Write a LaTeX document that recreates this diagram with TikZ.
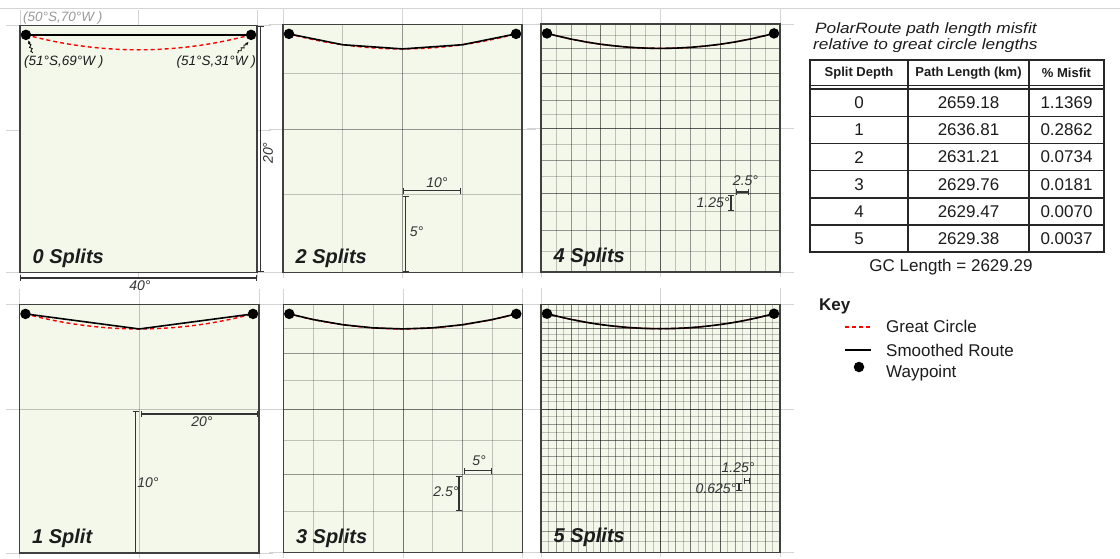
\documentclass[tikz,border=0pt]{standalone}
\usepackage{fontspec}
\setmainfont{Liberation Sans}
\newfontfamily\widefont[FakeStretch=1.15]{Liberation Sans}
\usetikzlibrary{arrows.meta,decorations.pathmorphing}
\definecolor{panelfill}{RGB}{243,248,235}
\definecolor{faintc}{RGB}{212,212,212}
\definecolor{txt}{RGB}{28,28,28}
\tikzset{
 faint/.style={draw=faintc, line width=0.6pt},
 gridln/.style={draw=black, draw opacity=0.22, line width=0.6pt},
 pborder/.style={draw=black!75, line width=1.6pt},
 route/.style={draw=black, line width=1.6pt},
 gcline/.style={draw=red, line width=1.4pt, dash pattern=on 4pt off 3pt},
 wpt/.style={circle, fill=black, inner sep=0pt, minimum size=10.5pt},
 dimln/.style={draw=black!80, line width=1.3pt, arrows={Bar[width=6pt,line width=1.2pt]-Bar[width=6pt,line width=1.2pt]}},
 splitlbl/.style={font=\fontsize{20}{24}\selectfont\bfseries\itshape, text=txt, inner sep=0pt},
 dimlbl/.style={font=\fontsize{14}{16}\selectfont\itshape, text=black!80, inner sep=0pt},
 coordlbl/.style={font=\fontsize{13.5}{16}\selectfont\itshape, text=txt, inner sep=0pt},
 ttl/.style={font=\fontsize{15}{16}\selectfont\widefont\itshape, text=txt, inner sep=0pt},
 thead/.style={font=\fontsize{13}{15}\selectfont\bfseries, text=txt, inner sep=0pt},
 tcell/.style={font=\fontsize{17}{19}\selectfont, text=txt, inner sep=0pt},
 keytxt/.style={font=\fontsize{17}{19}\selectfont, text=txt, inner sep=0pt, anchor=base west},
 tline/.style={draw=black!85, line width=1.5pt},
 squig/.style={draw=black, line width=0.8pt, -{Stealth[length=3.5pt,width=3pt]}, decorate, decoration={snake, amplitude=1.1pt, segment length=4pt, pre length=1pt, post length=2.5pt}}
}
\newcommand{\faintgrid}[4]{%
 \begin{scope}[shift={(#1,#2)}]
  \foreach \lx in {0,0.5,1}{\draw[faint] ({#3*\lx},-16) -- ({#3*\lx},{#4+5});}
  \foreach \ph in {50,60,70}{%
   \pgfmathsetmacro\yy{#4*(ln(tan(45+\ph/2))-1.010683)/0.724732}%
   \draw[faint] (-14,\yy) -- ({#3+14},\yy);}
 \end{scope}}
\newcommand{\mappanel}[7]{%
 \begin{scope}[shift={(#1,#2)}]
  \fill[panelfill] (0,0) rectangle (#3,#4);
  \ifnum#5>0
   \foreach \k in {1,...,#5}{%
    \pgfmathtruncatemacro\nn{2^\k}%
    \pgfmathtruncatemacro\nnm{\nn-1}%
    \foreach \j in {1,...,\nnm}{%
     \pgfmathsetmacro\xx{#3*\j/\nn}%
     \pgfmathsetmacro\yy{#4*(ln(tan(45+(50+20*\j/\nn)/2))-1.010683)/0.724732}%
     \draw[gridln] (\xx,0) -- (\xx,#4);
     \draw[gridln] (0,\yy) -- (#3,\yy);
    }%
   }%
  \fi
  \draw[pborder] (0,0) rectangle (#3,#4);
  \draw[gcline] plot[domain=-19:19, samples=77, variable=\t] ({#3*(\t+20)/40},{#4*(ln(tan(45+atan(1.30606*cos(\t))/2))-1.010683)/0.724732});
  \coordinate (#6L) at ({#3/40},{#4*0.03786});
  \coordinate (#6R) at ({#3*39/40},{#4*0.03786});
  \ifnum#5=0
   \draw[route] (#6L) -- (#6R);
  \else
   \pgfmathtruncatemacro\nn{2^#5}%
   \pgfmathtruncatemacro\nnm{\nn-1}%
   \draw[route] (#6L) \foreach \j in {1,...,\nnm}{ -- ({#3*\j/\nn},{#4*(ln(tan(45+atan(1.30606*cos(-20+40*\j/\nn))/2))-1.010683)/0.724732}) } -- (#6R);
  \fi
  \node[wpt] (#6wl) at (#6L) {};
  \node[wpt] (#6wr) at (#6R) {};
  \node[splitlbl, anchor=base west] (#6lb) at (12.5,{#4-9.5}) {#7};
 \end{scope}}
\begin{document}
\begin{tikzpicture}[x=1pt,y=-1pt]
\useasboundingbox (0,0) rectangle (1120,558);
\fill[white] (0,0) rectangle (1120,558);
\draw[faint] (0,8) -- (1120,8);
% faint graticule lines
\faintgrid{20}{25.5}{237}{247}
\faintgrid{283}{24.5}{239}{248}
\faintgrid{541}{24}{239}{248}
\faintgrid{19.5}{304.5}{239.5}{248.5}
\faintgrid{283.3}{304.5}{239}{248}
\faintgrid{541}{304.3}{239}{248}
% panels
\mappanel{20}{25.5}{237}{247}{0}{pA}{0 Splits}
\mappanel{283}{24.5}{239}{248}{2}{pC}{2 Splits}
\mappanel{541}{24}{239}{248}{4}{pE}{4 Splits}
\mappanel{19.5}{304.5}{239.5}{248.5}{1}{pB}{1 Split}
\mappanel{283.3}{304.5}{239}{248}{3}{pD}{3 Splits}
\mappanel{541}{304.3}{239}{248}{5}{pF}{5 Splits}
% coordinate labels on panel 0
\node[coordlbl, text=black!40, anchor=base west] (c50) at (23,21.5) {(50°S,70°W )};
\node[coordlbl, anchor=base west] (c69) at (24,65) {(51°S,69°W )};
\node[coordlbl, anchor=base east] (c31) at (256,65) {(51°S,31°W )};
\coordinate (s69) at (32.5,53);
\coordinate (e69) at (28.5,40.5);
\coordinate (s31) at (237.5,53);
\coordinate (e31) at (248.5,42);
\draw[squig] (s69) -- (e69);
\draw[squig] (s31) -- (e31);
% dimensions panel 0
\coordinate (d40a) at (20,278); \coordinate (d40b) at (257,278);
\draw[dimln] (d40a) -- (d40b);
\node[dimlbl] (l40) at (140,286) {40°};
\coordinate (d20a) at (260.5,26); \coordinate (d20b) at (260.5,272);
\draw[dimln] (d20a) -- (d20b);
\node[dimlbl, rotate=90] (l20) at (268,153) {20°};
% panel 1
\coordinate (h1a) at (141,414); \coordinate (h1b) at (258,414);
\draw[dimln] (h1a) -- (h1b);
\node[dimlbl] (lh1) at (202,421.5) {20°};
\coordinate (v1a) at (135.5,410.7); \coordinate (v1b) at (135.5,553);
\draw[dimln] (v1a) -- (v1b);
\node[dimlbl] (lv1) at (148,483) {10°};
% panel 2
\coordinate (h2a) at (403,190.7); \coordinate (h2b) at (461,190.7);
\draw[dimln] (h2a) -- (h2b);
\node[dimlbl] (lh2) at (437,183) {10°};
\coordinate (v2a) at (405.7,196); \coordinate (v2b) at (405.7,272);
\draw[dimln] (v2a) -- (v2b);
\node[dimlbl] (lv2) at (416.5,232) {5°};
% panel 3
\coordinate (h3a) at (464,470.7); \coordinate (h3b) at (491.7,470.7);
\draw[dimln] (h3a) -- (h3b);
\node[dimlbl] (lh3) at (479,460.5) {5°};
\coordinate (v3a) at (459,475.7); \coordinate (v3b) at (459,511);
\draw[dimln] (v3a) -- (v3b);
\node[dimlbl] (lv3) at (446,492) {2.5°};
% panel 4
\coordinate (h4a) at (735.7,192); \coordinate (h4b) at (749,192);
\draw[dimln] (h4a) -- (h4b);
\node[dimlbl] (lh4) at (745.5,181) {2.5°};
\coordinate (v4a) at (731,195); \coordinate (v4b) at (731,211);
\draw[dimln] (v4a) -- (v4b);
\node[dimlbl] (lv4) at (713,203) {1.25°};
% panel 5
\coordinate (h5a) at (744,480.7); \coordinate (h5b) at (750,480.7);
\draw[dimln] (h5a) -- (h5b);
\node[dimlbl] (lh5) at (738,468) {1.25°};
\coordinate (v5a) at (739,483); \coordinate (v5b) at (739,491);
\draw[dimln] (v5a) -- (v5b);
\node[dimlbl] (lv5) at (716,489) {0.625°};
% table title
\node[ttl, anchor=base west] (t1) at (815,33.3) {PolarRoute path length misfit};
\node[ttl, anchor=base west] (t2) at (813,49) {relative to great circle lengths};
% table frame
\draw[line width=1.8pt, draw=black!85] (810,60) rectangle (1104,252);
\draw[tline] (908,60) -- (908,252);
\draw[tline] (1029,60) -- (1029,252);
\draw[draw=black!85, line width=1.2pt] (810,85.3) -- (1104,85.3);
\draw[draw=black!85, line width=1.2pt] (810,89) -- (1104,89);
\foreach \ry in {116.3,143.5,170.7,198,225}{\draw[tline] (810,\ry) -- (1104,\ry);}
\node[thead] (hA) at (859,73) {Split Depth};
\node[thead] (hB) at (968.5,73) {Path Length (km)};
\node[thead] (hC) at (1066.5,73) {\% Misfit};
\foreach \d/\pl/\mf [count=\i from 0] in {0/2659.18/1.1369, 1/2636.81/0.2862, 2/2631.21/0.0734, 3/2629.76/0.0181, 4/2629.47/0.0070, 5/2629.38/0.0037}{
 \pgfmathsetmacro\cy{102.7+27.2*\i}
 \node[tcell] (rA\i) at (859,\cy) {\d};
 \node[tcell] (rB\i) at (968.5,\cy) {\pl};
 \node[tcell] (rC\i) at (1066.5,\cy) {\mf};
}
\node[tcell] (gcl) at (951,267) {GC Length = 2629.29};
% key
\node[keytxt, font=\fontsize{17}{19}\selectfont\bfseries] (key) at (819,310) {Key};
\coordinate (k1a) at (845,327); \coordinate (k1b) at (871,327);
\draw[gcline, line width=2pt] (k1a) -- (k1b);
\node[keytxt] (kt1) at (886,332.3) {Great Circle};
\coordinate (k2a) at (845,349.5); \coordinate (k2b) at (871,349.5);
\draw[route, line width=2pt] (k2a) -- (k2b);
\node[keytxt] (kt2) at (886,356) {Smoothed Route};
\node[wpt] (kw) at (859,367) {};
\node[keytxt] (kt3) at (886,377.3) {Waypoint};
\end{tikzpicture}
\end{document}
